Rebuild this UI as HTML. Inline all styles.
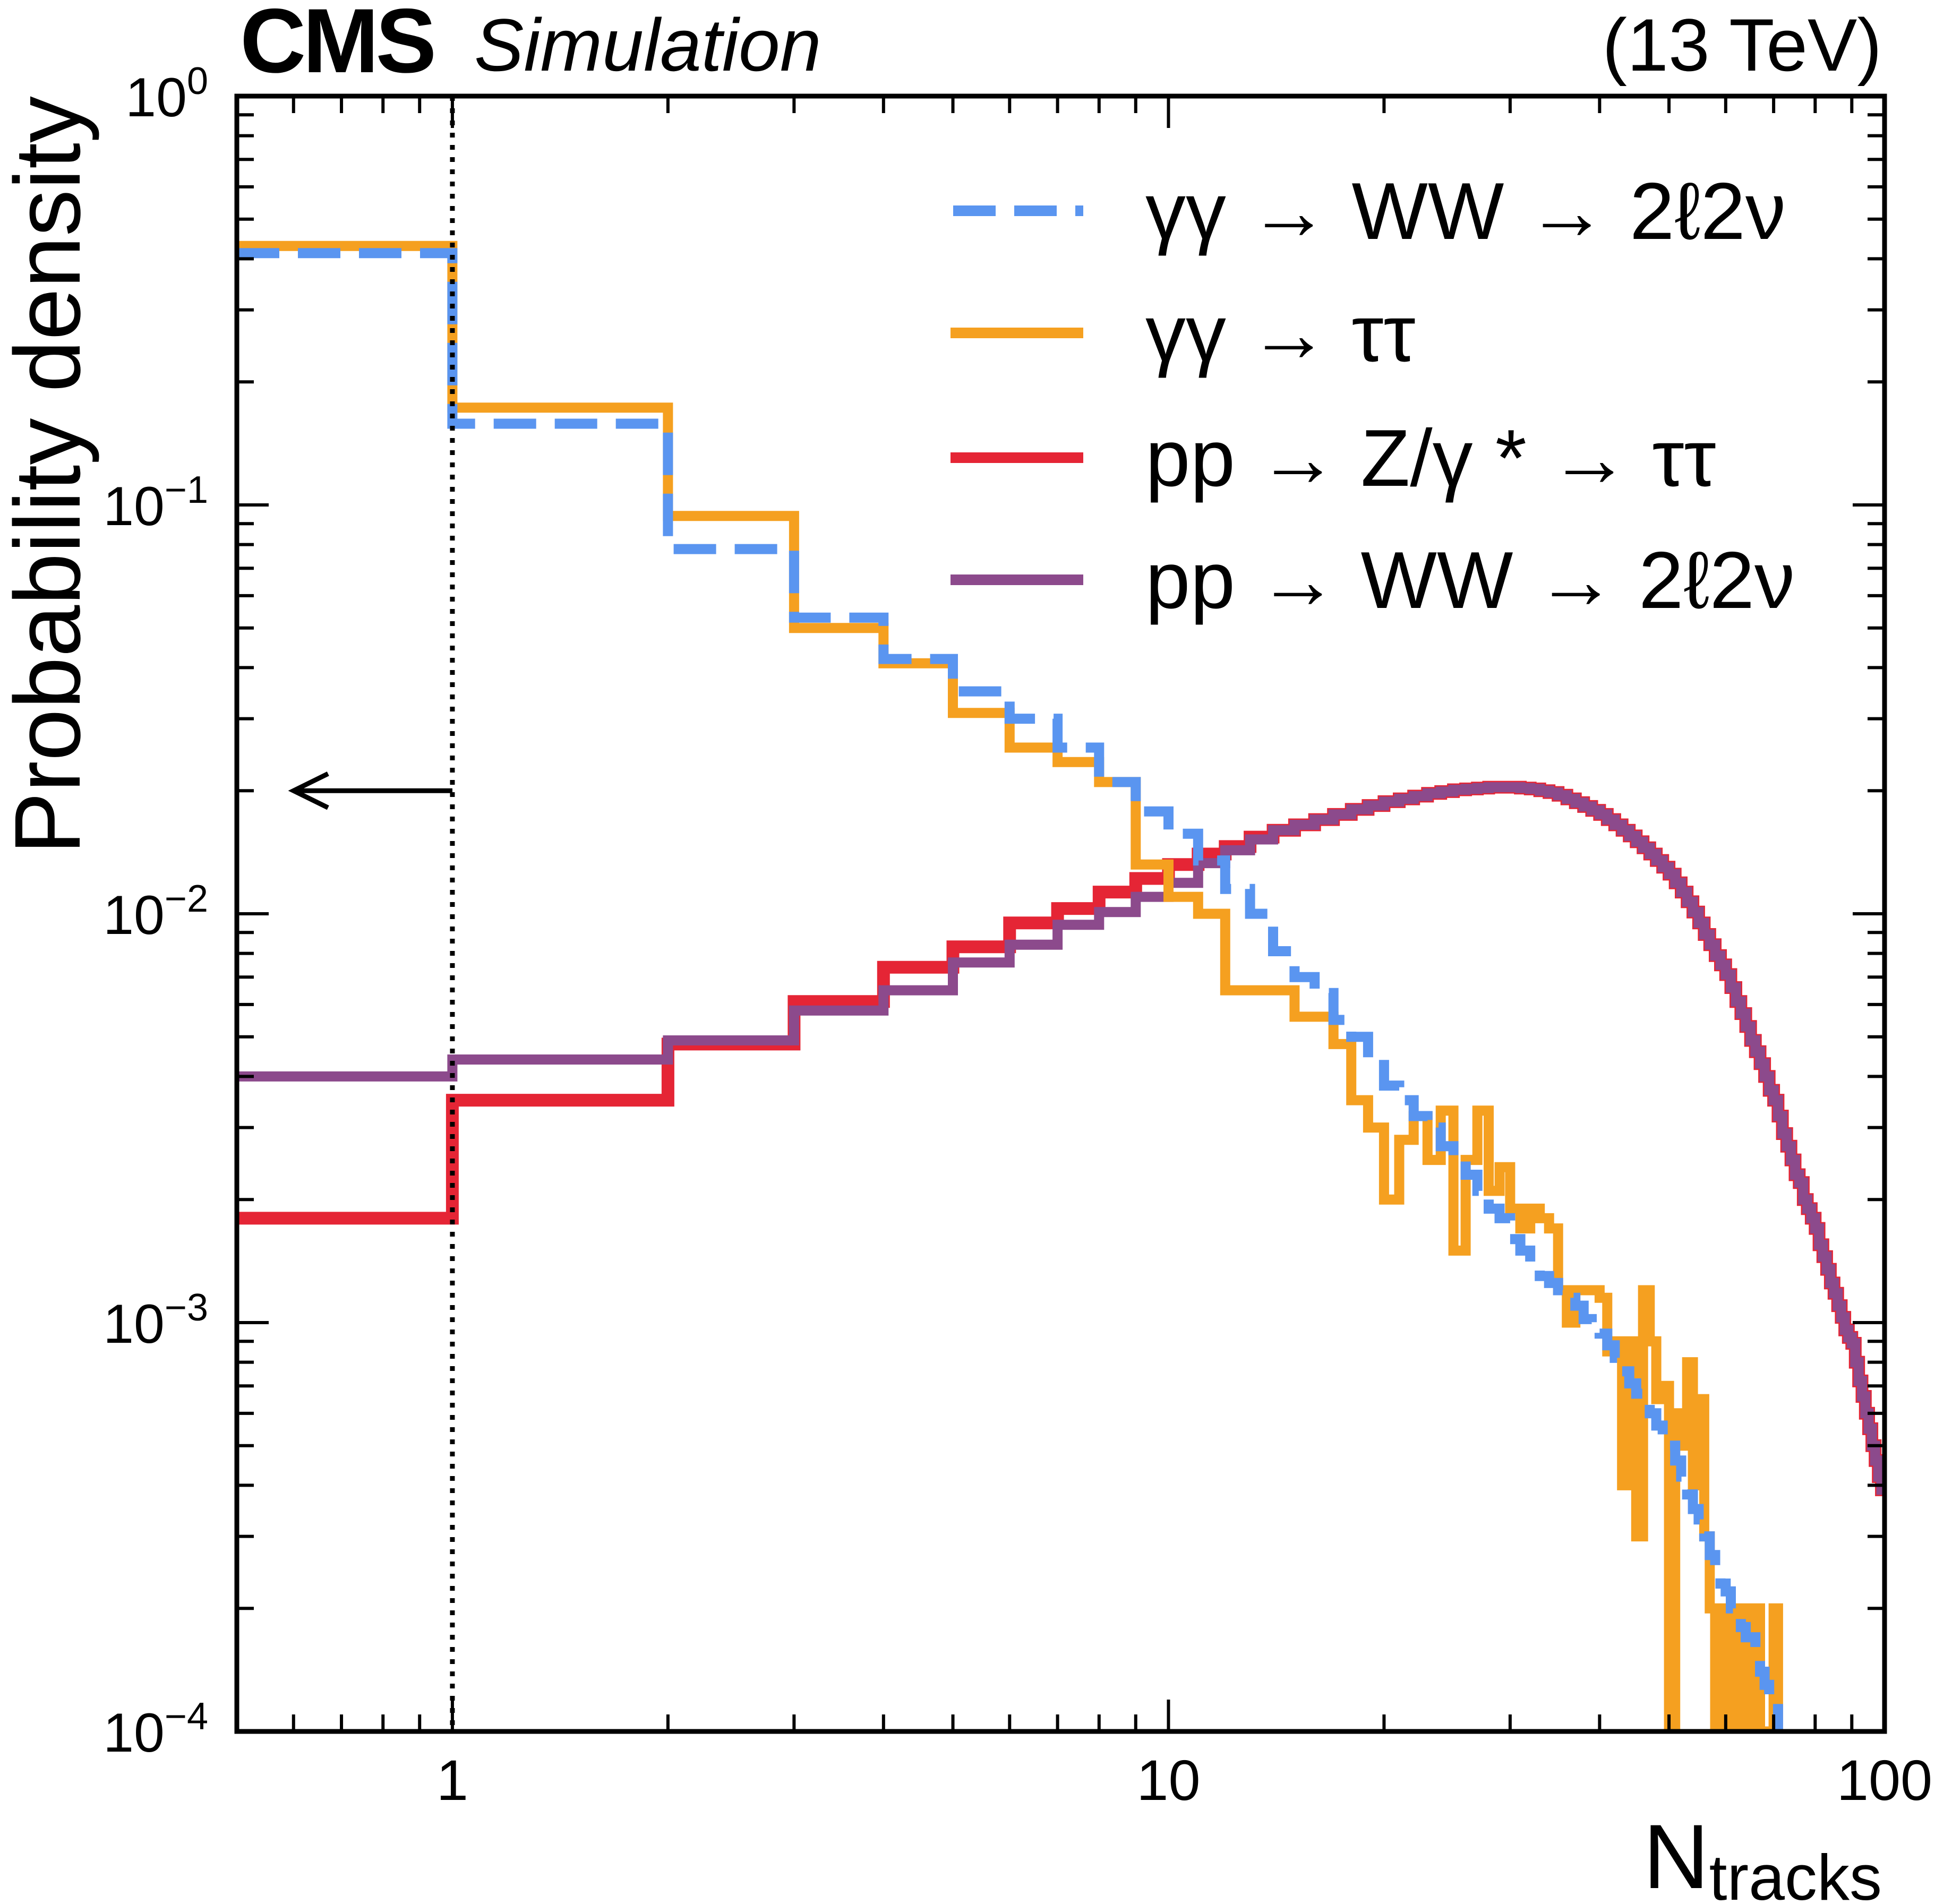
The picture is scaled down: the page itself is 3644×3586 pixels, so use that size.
<!DOCTYPE html>
<html><head><meta charset="utf-8"><style>
html,body{margin:0;padding:0;background:#fff}
svg{display:block}
text{font-family:"Liberation Sans",sans-serif;fill:#000}
</style></head><body>
<svg id="chart" width="3644" height="3586" viewBox="0 0 3644 3586" xmlns="http://www.w3.org/2000/svg">
<g id="marks"></g>
<g id="axes"></g>
<text x="452" y="136" font-size="172" font-weight="bold" letter-spacing="-6">CMS</text>
<text x="893" y="133" font-size="140" font-style="italic">Simulation</text>
<text x="3544" y="133" font-size="140" text-anchor="end">(13 TeV)</text>
<text transform="translate(150,181) rotate(-90)" font-size="176" text-anchor="end">Probability density</text>
<text x="3544" y="3556" font-size="172" text-anchor="end">N<tspan font-size="122" dy="22">tracks</tspan></text>
<g>
<line x1="1795" y1="397" x2="2040" y2="397" stroke="#5a95f0" stroke-width="20" stroke-dasharray="80,35"/>
<text x="2157" y="450" font-size="152">γγ → WW → 2ℓ2ν</text>
<line x1="1790" y1="627" x2="2040" y2="627" stroke="#f5a020" stroke-width="20"/>
<text x="2157" y="680" font-size="152">γγ → ττ</text>
<line x1="1790" y1="862" x2="2040" y2="862" stroke="#e52535" stroke-width="20"/>
<text x="2157" y="915" font-size="152">pp → Z/γ * → ττ</text>
<line x1="1790" y1="1092" x2="2040" y2="1092" stroke="#8c4a8c" stroke-width="20"/>
<text x="2157" y="1145" font-size="152">pp → WW → 2ℓ2ν</text>
</g>
</svg>
<script>
const orangeVals=[0.43,0.173,0.094,0.050,0.041,0.031,0.0255,0.0235,0.021,0.0132,0.011,0.010,0.0065,0.0065,0.0065,0.0056,0.0056,0.0048,0.0035,0.003,0.002,0.0028,0.0032,0.0025,0.0033,0.0015,0.0025,0.0033,0.0021,0.0024,0.0019,0.0017,0.0019,0.0018,0.0017,0.0012,0.0010,0.0012,0.0012,0.0012,0.00115,0.00085,0.0009,0.0004,0.0009,0.0003,0.0012,0.0009,0.00065,0.0007,0.0001,0.0006,0.0005,0.0008,0.0004,0.00065,0.0003,0.0002,0.0001,0.0002,0.0001,0.0002,0.0002,0.0001,0.0002,0.0001,0.0002,0.0001,0.0001,0.0001,0.0002,0.0001];
const blueVals=[0.413,0.158,0.078,0.053,0.042,0.035,0.030,0.0255,0.021,0.0178,0.0157,0.0135,0.0115,0.010,0.0081,0.007,0.0064,0.0055,0.005,0.0044,0.0038,0.0035,0.0032,0.003,0.0027,0.0025,0.0023,0.0021,0.0019,0.0018,0.0016,0.0015,0.0014,0.0013,0.00125,0.0012,0.00115,0.0011,0.00102,0.00098,0.00094,0.00088,0.00082,0.00076,0.00071,0.00067,0.00063,0.0006,0.00056,0.00053,0.0005,0.00046,0.00042,0.00038,0.00035,0.00033,0.0003,0.00027,0.00025,0.00023,0.00022,0.0002,0.00019,0.00018,0.00017,0.00017,0.00015,0.00014,0.00013,0.00012,0.00012,0.0001];
const redHead=[0.0018,0.0035,0.0048,0.0061,0.0074,0.0083,0.0095,0.0103,0.0113,0.0122,0.0132,0.014,0.0146,0.0154];
const purpleHead=[0.004,0.0044,0.0049,0.0058,0.0065,0.0076,0.0084,0.0094,0.0101,0.011,0.0119,0.0133,0.0143,0.0152];
const sharedTail=[0.016,0.0165,0.017,0.0175,0.018,0.0184,0.0188,0.0191,0.0194,0.0197,0.0199,0.0201,0.0202,0.0203,0.0204,0.0204,0.0204,0.0203,0.0202,0.0200,0.0198,0.0195,0.0191,0.0187,0.0183,0.0179,0.0175,0.0170,0.0165,0.0160,0.0155,0.0150,0.0145,0.0140,0.0135,0.0130,0.0125,0.0119,0.0113,0.0107,0.0101,0.0095,0.0089,0.0084,0.0079,0.0075,0.0071,0.0066,0.0061,0.0057,0.0053,0.0049,0.0046,0.0043,0.0040,0.0037,0.0035,0.0032,0.0029,0.0027,0.0025,0.0023,0.0022,0.0020,0.0019,0.0018,0.0017,0.00155,0.00145,0.00135,0.00125,0.00118,0.0011,0.00103,0.00096,0.00092,0.00089,0.0008,0.00072,0.00066,0.0006,0.00055,0.0005,0.00046,0.00042,0.00039];
const xTickLabels=["1","10","100"];
const yTickExps=["0","−1","−2","−3","−4"];

const L=446,R=3549,T=181,B=3261;
const XMIN=0.5,XMAX=100,YMIN=1e-4,YMAX=1;
function xs(v){return L+(Math.log10(v)-Math.log10(XMIN))/(Math.log10(XMAX)-Math.log10(XMIN))*(R-L);}
function ys(v){v=Math.max(v,YMIN);return T+(Math.log10(YMAX)-Math.log10(v))/(Math.log10(YMAX)-Math.log10(YMIN))*(B-T);}
const NS="http://www.w3.org/2000/svg";
const marks=document.getElementById('marks'),axes=document.getElementById('axes');
function mk(tag,attrs,parent){const e=document.createElementNS(NS,tag);for(const k in attrs)e.setAttribute(k,attrs[k]);parent.appendChild(e);return e;}
const cp=mk('clipPath',{id:'pc'},marks);
mk('rect',{x:L,y:T,width:R-L,height:B-T},cp);
function stepPath(vals){let d='';for(let i=0;i<vals.length;i++){const x0=xs(i===0?XMIN:i),x1=xs(Math.min(i+1,XMAX)),y=ys(vals[i]);d+=(i===0?'M':'L')+x0.toFixed(1)+','+y.toFixed(1)+'L'+x1.toFixed(1)+','+y.toFixed(1);}return d;}
function series(vals,color,name,dash,w){const p=mk('path',{d:stepPath(vals),fill:'none',stroke:color,'stroke-width':w||19,'clip-path':'url(#pc)'},marks);


if(dash)p.setAttribute('stroke-dasharray',dash);}
series(redHead.concat(sharedTail),'#e52535','series-dy-tautau',null,24);
series(purpleHead.concat(sharedTail),'#8c4a8c','series-pp-ww',null,19);
series(orangeVals,'#f5a020','series-aa-tautau');
series(blueVals,'#5a95f0','series-aa-ww','80,35');
const dl=mk('line',{x1:xs(1),x2:xs(1),y1:T,y2:B,stroke:'#000','stroke-width':9,'stroke-dasharray':'9,14'},axes);


const ay=ys(0.02);
const ar=mk('path',{d:`M${xs(1)},${ay}L${xs(0.6)+4},${ay}M${xs(0.6)+65},${ay-32}L${xs(0.6)},${ay}L${xs(0.6)+65},${ay+32}`,fill:'none',stroke:'#000','stroke-width':9},axes);


const fr=mk('rect',{x:L,y:T,width:R-L,height:B-T,fill:'none',stroke:'#000','stroke-width':9},axes);


let d='';
for(let dec=0.1;dec<=10;dec*=10){for(let m=1;m<10;m++){const val=+(dec*m).toPrecision(3);if(val<XMIN||val>XMAX)continue;const x=xs(val);const len=(m===1)?60:32;d+=`M${x},${B}L${x},${B-len}M${x},${T}L${x},${T+len}`;}}
d+=`M${xs(100)},${B}L${xs(100)},${B-60}`;
for(let e=0;e>=-4;e--){for(let m=1;m<10;m++){const val=m*Math.pow(10,e-1)*10;if(val>1||val<1e-4)continue;const y=ys(val);const len=m===1?60:32;d+=`M${L},${y}L${L+len},${y}M${R},${y}L${R-len},${y}`;}}
const tk=mk('path',{d:d,stroke:'#000','stroke-width':6,fill:'none'},axes);


xTickLabels.forEach(s=>{const t=mk('text',{x:xs(+s),y:3390,'font-size':108,'text-anchor':'middle'},axes);t.textContent=s;

});
yTickExps.forEach((s,i)=>{const y=ys(Math.pow(10,-i));const t=mk('text',{x:392,y:y+38,'font-size':104,'text-anchor':'end'},axes);


t.textContent='10';const ts=mk('tspan',{'font-size':72,dy:-42},t);ts.textContent=s;});
</script>
</body></html>
